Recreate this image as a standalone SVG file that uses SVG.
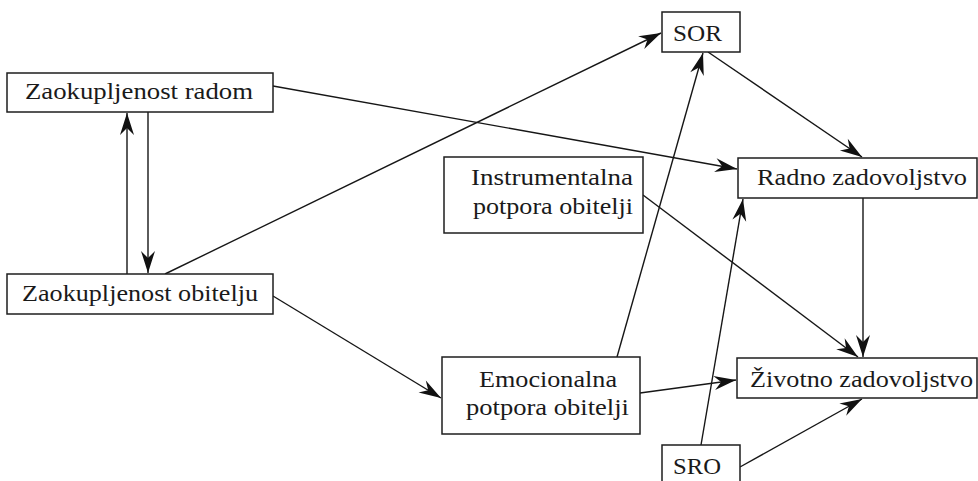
<svg xmlns="http://www.w3.org/2000/svg" width="978" height="481" viewBox="0 0 978 481">
<style>
.box{fill:#fff;stroke:#1e1e1e;stroke-width:1.5}
.lbl{font-family:"Liberation Serif","Times New Roman",serif;font-size:23px;fill:#1a1a1a}
.edge{stroke:#161616;stroke-width:1.4;fill:none;marker-end:url(#ah)}
</style>
<defs>
<marker id="ah" viewBox="-24 -9 26 18" markerWidth="26" markerHeight="18" refX="0" refY="0" orient="auto" markerUnits="userSpaceOnUse">
<path d="M0,0 L-22,-7 L-15,0 L-22,7 Z" fill="#111"/>
</marker>
</defs>
<rect width="978" height="481" fill="#fff"/>
<g id="connectors">
<line class="edge" x1="127" y1="274" x2="127" y2="113"/>
<line class="edge" x1="148" y1="112" x2="148" y2="273"/>
<line class="edge" x1="165" y1="274" x2="661" y2="33"/>
<line class="edge" x1="273" y1="86" x2="737" y2="169"/>
<line class="edge" x1="708" y1="52" x2="862" y2="157"/>
<line class="edge" x1="643" y1="195" x2="858" y2="357"/>
<line class="edge" x1="863" y1="198" x2="863" y2="357"/>
<line class="edge" x1="273" y1="296" x2="441" y2="398"/>
<line class="edge" x1="617" y1="357" x2="703" y2="53"/>
<line class="edge" x1="640" y1="393" x2="736" y2="380"/>
<line class="edge" x1="701" y1="445" x2="743" y2="199"/>
<line class="edge" x1="740" y1="467" x2="862" y2="399"/>
</g>
<g id="zaok-radom">
<rect class="box" x="7" y="73" width="266" height="39"/>
<text class="lbl" x="25" y="99" textLength="228" lengthAdjust="spacingAndGlyphs">Zaokupljenost radom</text>
</g>
<g id="zaok-obitelju">
<rect class="box" x="7" y="274" width="266" height="40"/>
<text class="lbl" x="22" y="301" textLength="236" lengthAdjust="spacingAndGlyphs">Zaokupljenost obitelju</text>
</g>
<g id="sor">
<rect class="box" x="662" y="12" width="78" height="40"/>
<text class="lbl" x="673" y="41" textLength="49" lengthAdjust="spacingAndGlyphs">SOR</text>
</g>
<g id="radno">
<rect class="box" x="738" y="158" width="239" height="40"/>
<text class="lbl" x="757" y="185" textLength="210" lengthAdjust="spacingAndGlyphs">Radno zadovoljstvo</text>
</g>
<g id="instrumentalna">
<rect class="box" x="444" y="157" width="199" height="76"/>
<text class="lbl" x="471" y="185" textLength="162" lengthAdjust="spacingAndGlyphs">Instrumentalna</text>
<text class="lbl" x="473" y="214" textLength="160" lengthAdjust="spacingAndGlyphs">potpora obitelji</text>
</g>
<g id="emocionalna">
<rect class="box" x="442" y="357" width="198" height="77"/>
<text class="lbl" x="479" y="387" textLength="138" lengthAdjust="spacingAndGlyphs">Emocionalna</text>
<text class="lbl" x="466" y="415" textLength="163" lengthAdjust="spacingAndGlyphs">potpora obitelji</text>
</g>
<g id="zivotno">
<rect class="box" x="737" y="358" width="240" height="40"/>
<text class="lbl" x="750" y="387" textLength="223" lengthAdjust="spacingAndGlyphs">Životno zadovoljstvo</text>
</g>
<g id="sro">
<rect class="box" x="662" y="445" width="78" height="45"/>
<text class="lbl" x="673" y="474" textLength="48" lengthAdjust="spacingAndGlyphs">SRO</text>
</g>
</svg>
